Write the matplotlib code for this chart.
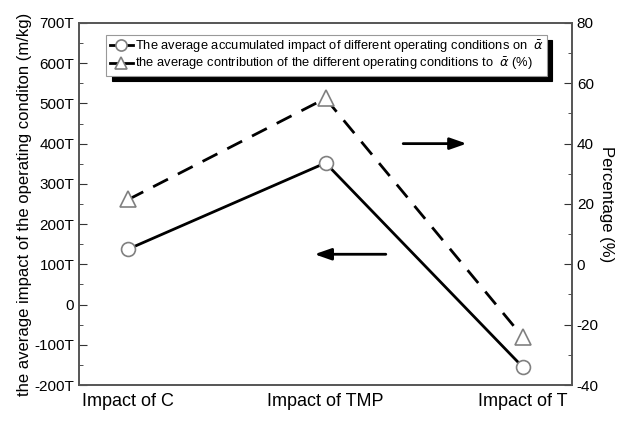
import numpy as np
import matplotlib
matplotlib.use("Agg")
import matplotlib.pyplot as plt
from matplotlib.ticker import FuncFormatter, MultipleLocator

plt.rcParams['font.family'] = ['Liberation Sans', 'DejaVu Sans']
plt.rcParams['axes.unicode_minus'] = False

# --- Datos ---
categorias = ["Impact of C", "Impact of TMP", "Impact of T"]
impacto_medio = [138, 352, -155]        # miles (T) m/kg
contribucion = [21.5, 55, -24]          # %

fig = plt.figure(figsize=(6.23, 4.21), dpi=100)
ax = fig.add_axes([0.127, 0.0855, 0.791, 0.86])
ax2 = ax.twinx()

x = np.arange(len(categorias))

l1, = ax.plot(x, impacto_medio, color='black', lw=2, marker='o', ms=10,
              mfc='white', mec='#808080', mew=1.2,
              label=r"The average accumulated impact of different operating conditions on  $\bar{\alpha}$")
l2, = ax2.plot(x, contribucion, color='black', lw=2, ls=(0, (6, 4)), marker='^', ms=11,
               mfc='white', mec='#808080', mew=1.2,
               label=r"the average contribution of the different operating conditions to  $\bar{\alpha}$ (%)")

ax.set_xlim(-0.25, 2.25)
ax.set_ylim(-200, 700)
ax2.set_ylim(-40, 80)

ax.set_xticks(x)
ax.set_xticklabels(categorias, fontsize=13)
ax.tick_params(axis='x', length=0, pad=6)

ax.yaxis.set_major_locator(MultipleLocator(100))
ax.yaxis.set_minor_locator(MultipleLocator(50))
ax.yaxis.set_major_formatter(FuncFormatter(lambda v, p: "0" if v == 0 else f"{int(v)}T"))
ax.tick_params(axis='y', which='both', direction='in', labelsize=11, colors='#333333', labelcolor='black')
ax.tick_params(axis='y', which='major', length=6)
ax.tick_params(axis='y', which='minor', length=3)

ax2.yaxis.set_major_locator(MultipleLocator(20))
ax2.yaxis.set_minor_locator(MultipleLocator(10))
ax2.tick_params(axis='y', which='both', direction='in', labelsize=11, colors='#333333', labelcolor='black')
ax2.tick_params(axis='y', which='major', length=6)
ax2.tick_params(axis='y', which='minor', length=3)

for a in (ax, ax2):
    for s in a.spines.values():
        s.set_color('#555555')
        s.set_linewidth(1.2)

ax.set_ylabel("the average impact of the operating conditon (m/kg)", fontsize=12, labelpad=2)
ax2.set_ylabel("Percentage (%)", fontsize=12, rotation=270, labelpad=11)

# Flechas indicando el eje
ax2.annotate("", xy=(1.73, 40), xytext=(1.38, 40),
             arrowprops=dict(arrowstyle='-|>,head_length=1.0,head_width=0.35', color='black', lw=2))
ax.annotate("", xy=(0.93, 125), xytext=(1.32, 125),
            arrowprops=dict(arrowstyle='-|>,head_length=1.0,head_width=0.35', color='black', lw=2))

leg = ax2.legend(handles=[l1, l2], loc='upper left', bbox_to_anchor=(0.042, 0.985),
                 fontsize=9.3, frameon=True, fancybox=False, borderpad=0.25,
                 handlelength=1.8, handletextpad=0.15, labelspacing=0.1,
                 shadow={'color': 'black', 'alpha': 1, 'ox': 4, 'oy': -4})
leg.get_frame().set_edgecolor('#999999')
leg.get_frame().set_linewidth(0.8)
for h in leg.get_lines():
    h.set_linestyle('-')
    h.set_markersize(8)

fig.savefig("out.png", dpi=100)
